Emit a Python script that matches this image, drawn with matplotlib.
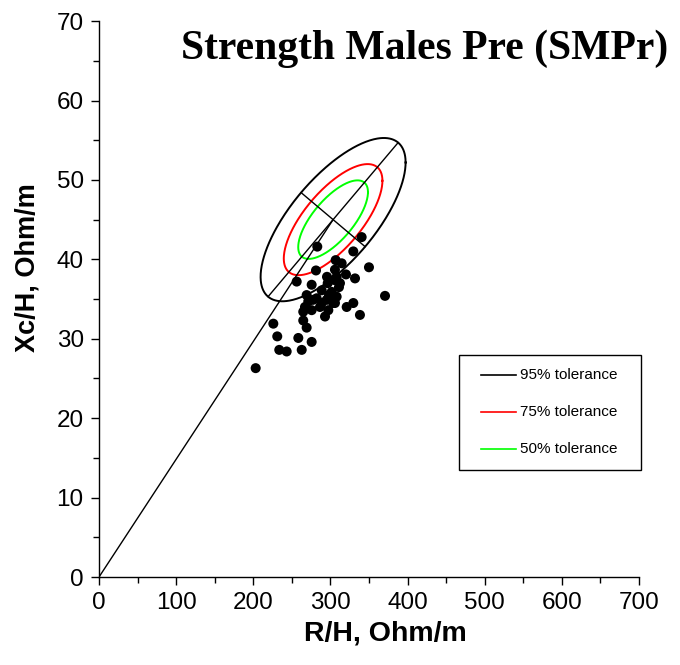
import numpy as np
import matplotlib
matplotlib.use("Agg")
import matplotlib.pyplot as plt
from matplotlib.patches import Rectangle
from matplotlib.ticker import MultipleLocator

# ── Data ──────────────────────────────────────────────────────────────────────
R_H = [283.0, 340.5, 329.7, 306.8, 314.6, 281.3, 350.0, 305.9, 320.2, 331.9,
       256.3, 305.0, 296.5, 275.7, 311.1, 288.7, 301.7, 269.2, 370.8, 308.1,
       282.2, 295.2, 305.9, 329.7, 321.1, 267.0, 286.5, 297.3, 338.3, 226.0,
       264.8, 264.8, 269.2, 293.0, 231.1, 258.4, 275.7, 262.8, 233.7, 243.3,
       203.1, 271.3, 288.7, 303.7, 275.7, 295.6, 277.4, 312.4, 298.2, 308.1]
XC_H = [41.6, 42.8, 41.0, 39.9, 39.5, 38.6, 39.0, 38.7, 38.1, 37.6,
        37.2, 37.4, 37.0, 36.8, 36.5, 36.1, 35.9, 35.5, 35.4, 35.3,
        35.1, 34.9, 34.5, 34.5, 34.0, 34.0, 34.0, 33.6, 33.0, 31.9,
        33.4, 32.3, 31.4, 32.8, 30.3, 30.1, 29.6, 28.6, 28.6, 28.4,
        26.3, 34.7, 34.5, 34.5, 33.6, 37.8, 34.9, 37.0, 35.5, 37.8]

# reference population (tolerance ellipses)
MEAN_R, MEAN_XC = 303.5, 45.0
SD_R, SD_XC, CORR = 38.4, 4.2, 0.70

TOL_LEVELS = [0.95, 0.75, 0.50]
TOL_LABELS = ["95% tolerance", "75% tolerance", "50% tolerance"]
TOL_COLORS = ["black", "red", "#00FF00"]

XMAX, YMAX = 700, 70

plt.rcParams["font.family"] = ["Liberation Sans", "DejaVu Sans"]

fig = plt.figure(figsize=(6.8, 6.65), dpi=100)
ax = fig.add_axes([0.1456, 0.1323, 0.794, 0.836])
ax.set_xlim(0, XMAX)
ax.set_ylim(0, YMAX)

# ── Tolerance ellipses ────────────────────────────────────────────────────────
cov = np.array([[SD_R**2, CORR * SD_R * SD_XC],
                [CORR * SD_R * SD_XC, SD_XC**2]])
L = np.linalg.cholesky(cov)
t = np.linspace(0, 2 * np.pi, 400)
circle = np.vstack([np.cos(t), np.sin(t)])
center = np.array([MEAN_R, MEAN_XC])

for p, col in zip(TOL_LEVELS, TOL_COLORS):
    q = -2 * np.log(1 - p)          # chi-square quantile, 2 dof
    pts = center[:, None] + np.sqrt(q) * (L @ circle)
    ax.plot(pts[0], pts[1], color=col, linewidth=1.4, zorder=2)

# axes of the 95% ellipse, as they appear on screen
bbox = ax.get_position()
kx = bbox.width * fig.get_figwidth() / XMAX
ky = bbox.height * fig.get_figheight() / YMAX
K = np.diag([kx, ky])
vals, vecs = np.linalg.eigh(K @ cov @ K)
q95 = -2 * np.log(1 - TOL_LEVELS[0])
for lam, v in zip(vals, vecs.T):
    half = np.sqrt(q95 * lam) * v / np.array([kx, ky])
    ends = np.vstack([center - half, center + half])
    ax.plot(ends[:, 0], ends[:, 1], color="black", linewidth=1.0, zorder=2)

# mean vector from the origin
ax.plot([0, MEAN_R], [0, MEAN_XC], color="black", linewidth=1.0, zorder=2)

# ── Subjects ──────────────────────────────────────────────────────────────────
ax.scatter(R_H, XC_H, s=52, color="black", edgecolors="none", zorder=3)

# ── Axes styling ──────────────────────────────────────────────────────────────
ax.spines["top"].set_visible(False)
ax.spines["right"].set_visible(False)
for s in ("left", "bottom"):
    ax.spines[s].set_linewidth(1.0)
ax.xaxis.set_major_locator(MultipleLocator(100))
ax.xaxis.set_minor_locator(MultipleLocator(50))
ax.yaxis.set_major_locator(MultipleLocator(10))
ax.yaxis.set_minor_locator(MultipleLocator(5))
ax.tick_params(which="major", length=6, width=1.0, labelsize=17.5, pad=5)
ax.tick_params(which="minor", length=4.5, width=1.0)

ax.set_xlabel("R/H, Ohm/m", fontsize=20.5, fontweight="bold")
ax.set_ylabel("Xc/H, Ohm/m", fontsize=19.5, fontweight="bold")
ax.xaxis.set_label_coords(0.531, -0.079)
ax.yaxis.set_label_coords(-0.109, 0.556)

ax.text(0.604, 0.950, "Strength Males Pre (SMPr)", transform=ax.transAxes,
        ha="center", va="center", fontsize=30, fontweight="bold",
        family="Liberation Serif")

# ── Legend (drawn by hand to match the boxed layout) ─────────────────────────
ax.add_patch(Rectangle((0.667, 0.192), 0.337, 0.207, transform=ax.transAxes,
                       facecolor="white", edgecolor="black", linewidth=1.0,
                       clip_on=False, zorder=4))
for i, (lab, col) in enumerate(zip(TOL_LABELS, TOL_COLORS)):
    yy = 0.363 - i * 0.0665
    ax.plot([0.708, 0.772], [yy, yy], color=col, linewidth=1.2,
            transform=ax.transAxes, clip_on=False, zorder=5)
    ax.text(0.779, yy, lab, transform=ax.transAxes, fontsize=11,
            va="center", ha="left", zorder=5)

fig.savefig("out.png", dpi=100)
